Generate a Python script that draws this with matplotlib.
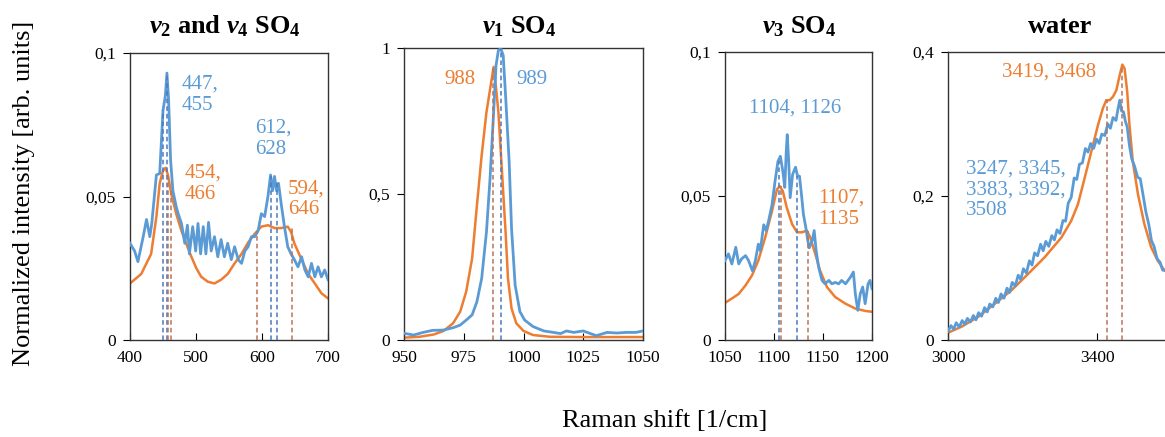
import matplotlib.pyplot as plt

plt.rcParams['font.family'] = 'Liberation Serif'
plt.rcParams['mathtext.fontset'] = 'custom'
plt.rcParams['mathtext.rm'] = 'Liberation Serif:bold'
plt.rcParams['mathtext.it'] = 'Liberation Serif:italic:bold'
plt.rcParams['mathtext.bf'] = 'Liberation Serif:bold'

BLUE = '#5B9BD5'
ORANGE = '#ED7D31'
BLUE_DASH = '#4A78C0'
ORANGE_DASH = '#B8735A'

# --- nu2 / nu4 SO4 ---
p1_x_blue = [400, 407, 412, 420, 425, 430, 433, 440, 445, 450,
             453.5, 456, 458.5, 461.5, 465, 470, 473, 478, 483, 487,
             490, 495, 499.5, 503, 507, 511, 515, 519, 523, 528,
             533, 538, 543, 548, 553.5, 558.5, 564, 569, 574, 579,
             584, 589, 594, 599, 604, 609, 613, 616, 619, 622,
             625, 629, 634, 639, 644, 649, 654.5, 660, 665, 670,
             675, 680, 685, 690, 695, 700]
p1_y_blue = [0.0337, 0.031, 0.0273, 0.036, 0.042, 0.036, 0.0406, 0.0575, 0.058, 0.080,
             0.085, 0.093, 0.0836, 0.0627, 0.052, 0.0465, 0.044, 0.0406, 0.0337, 0.040,
             0.030, 0.0395, 0.031, 0.0406, 0.030, 0.0395, 0.030, 0.041, 0.031, 0.036,
             0.029, 0.035, 0.029, 0.0337, 0.028, 0.0325, 0.028, 0.0267, 0.031, 0.0325,
             0.036, 0.036, 0.038, 0.044, 0.043, 0.050, 0.0575, 0.052, 0.057, 0.052,
             0.0546, 0.0476, 0.0395, 0.0325, 0.030, 0.028, 0.0255, 0.029, 0.0244, 0.022,
             0.0267, 0.022, 0.0255, 0.022, 0.0244, 0.021]
p1_x_orange = [400, 417, 432, 440, 445, 450, 454, 457.5, 462.5, 470,
               478, 485, 493, 500.5, 508, 518, 528, 538, 548, 558.5,
               569, 579, 589, 599, 609, 619, 629, 639, 644, 649,
               660, 670, 680, 690, 700]
p1_y_orange = [0.0197, 0.023, 0.030, 0.043, 0.0546, 0.059, 0.060, 0.0575, 0.051, 0.044,
               0.038, 0.0337, 0.029, 0.025, 0.022, 0.0203, 0.0197, 0.021, 0.023, 0.0267,
               0.030, 0.034, 0.037, 0.0395, 0.040, 0.039, 0.039, 0.0395, 0.0377, 0.0337,
               0.028, 0.023, 0.0197, 0.0163, 0.0145]
p1_peaks_blue = [449.5, 455.5, 613, 622]
p1_tops_blue = [0.080, 0.093, 0.057, 0.055]
p1_peaks_orange = [458, 461.5, 592, 645]
p1_tops_orange = [0.057, 0.052, 0.038, 0.039]

# --- nu1 SO4 ---
p2_x_blue = [950, 954, 958, 962, 966.5, 970.5, 973.5, 976, 978.5, 980.5,
             982.5, 984.5, 986, 987.5, 988.5, 989.5, 990.5, 991.5, 992.5, 994,
             995, 996.5, 998.5, 1000.5, 1004, 1008.5, 1012.5, 1015.5, 1018, 1021,
             1025, 1028, 1030.5, 1035, 1039, 1043, 1047, 1050]
p2_y_blue = [0.023, 0.017, 0.026, 0.033, 0.034, 0.042, 0.051, 0.068, 0.086, 0.131,
             0.211, 0.37, 0.553, 0.78, 0.94, 0.992, 0.998, 0.975, 0.838, 0.61,
             0.382, 0.188, 0.097, 0.068, 0.046, 0.031, 0.026, 0.022, 0.031, 0.026,
             0.031, 0.022, 0.015, 0.026, 0.024, 0.026, 0.026, 0.031]
p2_x_orange = [950, 956.5, 962.5, 966.5, 970.5, 973.5, 976, 978.5, 980.5, 982.5,
               984.5, 986.5, 987.5, 988, 989.5, 991, 992.5, 993.5, 995, 997,
               1000, 1004, 1011, 1025, 1050]
p2_y_orange = [0.008, 0.011, 0.019, 0.031, 0.057, 0.097, 0.165, 0.279, 0.46, 0.633,
               0.78, 0.884, 0.935, 0.906, 0.78, 0.576, 0.37, 0.211, 0.108, 0.057,
               0.031, 0.017, 0.011, 0.010, 0.010]
p2_peaks_blue = [990.5]
p2_tops_blue = [1.0]
p2_peaks_orange = [987.2]
p2_tops_orange = [0.935]

# --- nu3 SO4 ---
p3_x_blue = [1050, 1053.5, 1057, 1061, 1064, 1067, 1071, 1074, 1078, 1081,
             1084, 1086, 1089.5, 1092, 1094.5, 1098, 1101, 1104, 1106.5, 1109,
             1111, 1112.5, 1113.5, 1115, 1116.5, 1119, 1122, 1124, 1126, 1128,
             1130, 1132.5, 1134.5, 1136, 1139, 1141, 1143, 1145.5, 1149, 1152,
             1156, 1159, 1162.5, 1166, 1169, 1173, 1178, 1181, 1183, 1185.5,
             1188, 1190.5, 1193, 1196, 1198, 1200]
p3_y_blue = [0.0276, 0.0299, 0.0264, 0.0322, 0.0264, 0.0282, 0.0293, 0.0276, 0.024, 0.0276,
             0.0333, 0.031, 0.040, 0.038, 0.0414, 0.047, 0.055, 0.062, 0.0638, 0.0586,
             0.053, 0.0655, 0.0713, 0.062, 0.0494, 0.0575, 0.060, 0.0569, 0.0569, 0.0506,
             0.0437, 0.039, 0.0345, 0.032, 0.0345, 0.038, 0.031, 0.0253, 0.0207, 0.0195,
             0.0207, 0.0195, 0.020, 0.0195, 0.0207, 0.0195, 0.0218, 0.0236, 0.016, 0.0103,
             0.016, 0.0184, 0.0126, 0.0195, 0.0207, 0.0178]
p3_x_orange = [1050, 1057, 1064, 1071, 1077.5, 1084, 1091, 1098, 1103, 1106,
               1109, 1113, 1118.5, 1123.5, 1128.5, 1133.5, 1137, 1142, 1147, 1154,
               1162.5, 1173, 1183, 1193, 1200]
p3_y_orange = [0.0129, 0.0144, 0.016, 0.019, 0.0224, 0.0276, 0.0356, 0.0448, 0.0523, 0.0534,
               0.0517, 0.046, 0.0402, 0.0374, 0.0374, 0.038, 0.0356, 0.030, 0.0241, 0.0184,
               0.0149, 0.0126, 0.0109, 0.0101, 0.0098]
p3_peaks_blue = [1104.8, 1123.8]
p3_tops_blue = [0.062, 0.057]
p3_peaks_orange = [1106.8, 1134.4]
p3_tops_orange = [0.0534, 0.038]

# --- water ---
p4_x_blue = [3000, 3008, 3015, 3022, 3030, 3038, 3045, 3052, 3060, 3068,
             3075, 3082, 3090, 3098, 3105, 3112, 3120, 3128, 3135, 3142,
             3150, 3158, 3165, 3172, 3180, 3188, 3195, 3202, 3210, 3218,
             3225, 3232, 3240, 3248, 3255, 3262, 3270, 3278, 3285, 3292,
             3300, 3308, 3315, 3322, 3330, 3338, 3345, 3352, 3360, 3368,
             3375, 3382, 3390, 3398, 3405, 3412, 3420, 3428, 3435, 3442,
             3450, 3455, 3460, 3465, 3470, 3475, 3480, 3486, 3492, 3500,
             3508, 3515, 3522, 3530, 3538, 3545, 3552, 3560, 3568, 3575,
             3582]
p4_y_blue = [0.012, 0.020, 0.015, 0.024, 0.018, 0.027, 0.022, 0.030, 0.025, 0.034,
             0.028, 0.038, 0.033, 0.045, 0.039, 0.050, 0.046, 0.058, 0.052, 0.064,
             0.058, 0.072, 0.066, 0.080, 0.075, 0.090, 0.084, 0.099, 0.093, 0.110,
             0.104, 0.121, 0.117, 0.133, 0.124, 0.137, 0.130, 0.145, 0.139, 0.153,
             0.148, 0.166, 0.165, 0.190, 0.198, 0.225, 0.223, 0.244, 0.246, 0.266,
             0.261, 0.273, 0.266, 0.279, 0.273, 0.286, 0.284, 0.300, 0.294, 0.309,
             0.305, 0.320, 0.333, 0.318, 0.317, 0.304, 0.296, 0.270, 0.252, 0.241,
             0.226, 0.224, 0.203, 0.178, 0.160, 0.138, 0.130, 0.113, 0.108, 0.097,
             0.097]
p4_x_orange = [3000, 3036, 3081, 3126, 3170, 3215, 3259, 3304, 3330, 3348,
               3366, 3384, 3402, 3415, 3424, 3433, 3442, 3451, 3460, 3467,
               3473, 3480, 3486, 3495, 3509, 3526, 3544, 3562, 3580]
p4_y_orange = [0.0101, 0.0184, 0.0322, 0.0506, 0.069, 0.092, 0.115, 0.1425, 0.1655, 0.1885,
               0.225, 0.262, 0.299, 0.322, 0.333, 0.333, 0.338, 0.347, 0.368, 0.3825,
               0.377, 0.345, 0.299, 0.248, 0.202, 0.161, 0.129, 0.110, 0.0966]
p4_peaks_orange = [3425.5, 3467]
p4_tops_orange = [0.333, 0.382]

titles = [r'$\nu_\mathbf{2}$ and $\nu_\mathbf{4}$ SO$_\mathbf{4}$',
          r'$\nu_\mathbf{1}$ SO$_\mathbf{4}$',
          r'$\nu_\mathbf{3}$ SO$_\mathbf{4}$',
          'water']
xlims = [(400, 700), (950, 1050), (1050, 1200), (3000, 3600)]
xticks = [[400, 500, 600, 700], [950, 975, 1000, 1025, 1050],
          [1050, 1100, 1150, 1200], [3000, 3400]]
ytops = [0.1, 1, 0.1, 0.4]
yticks = [[0, 0.05, 0.1], [0, 0.5, 1], [0, 0.05, 0.1], [0, 0.2, 0.4]]
yticklabels = [['0', '0,05', '0,1'], ['0', '0,5', '1'],
               ['0', '0,05', '0,1'], ['0', '0,2', '0,4']]

W, H = 1165, 437
# pixel boxes: left, top, right, bottom
boxes = [(130, 53, 328, 340), (404, 48, 643, 340),
         (725, 52, 872, 340), (948, 52, 1172, 340)]
title_x = [225, 519, 799, 1060]
title_base = 33

fig = plt.figure(figsize=(W / 100, H / 100), dpi=100)
axes = []
for i, (l, t, r, b) in enumerate(boxes):
    ax = fig.add_axes([l / W, 1 - b / H, (r - l) / W, (b - t) / H])
    ax.set_xlim(*xlims[i])
    ax.set_ylim(0, ytops[i])
    ax.set_xticks(xticks[i])
    ax.set_yticks(yticks[i])
    ax.set_yticklabels(yticklabels[i])
    ax.tick_params(axis='x', direction='in', length=5, pad=7, labelsize=12.5)
    ax.tick_params(axis='y', direction='out', length=5, pad=5, labelsize=12.5)
    for s in ax.spines.values():
        s.set_linewidth(1.0)
        s.set_color('#333333')
    fig.text(title_x[i] / W, 1 - title_base / H, titles[i], fontsize=19,
             fontweight='bold', ha='center', va='baseline')
    axes.append(ax)

dash = (0, (3, 2))
series = [
    (p1_x_orange, p1_y_orange, p1_x_blue, p1_y_blue),
    (p2_x_orange, p2_y_orange, p2_x_blue, p2_y_blue),
    (p3_x_orange, p3_y_orange, p3_x_blue, p3_y_blue),
    (p4_x_orange, p4_y_orange, p4_x_blue, p4_y_blue),
]
for ax, (xo, yo, xb, yb) in zip(axes, series):
    ax.plot(xo, yo, color=ORANGE, lw=1.8, zorder=2)
    ax.plot(xb, yb, color=BLUE, lw=2.0, zorder=3)

peaks = [
    (p1_peaks_blue, p1_tops_blue, p1_peaks_orange, p1_tops_orange),
    (p2_peaks_blue, p2_tops_blue, p2_peaks_orange, p2_tops_orange),
    (p3_peaks_blue, p3_tops_blue, p3_peaks_orange, p3_tops_orange),
    ([], [], p4_peaks_orange, p4_tops_orange),
]
for ax, (pb, tb, po, to) in zip(axes, peaks):
    if pb:
        ax.vlines(pb, 0, tb, colors=BLUE_DASH, linestyles=dash, lw=1.1, zorder=4)
    ax.vlines(po, 0, to, colors=ORANGE_DASH, linestyles=dash, lw=1.1, zorder=4)

fs = 15
a1, a2, a3, a4 = axes
a1.text(478.5, 0.0925, '447,\n455', color=BLUE, fontsize=fs, va='top', ha='left', linespacing=1.15)
a1.text(589, 0.077, '612,\n628', color=BLUE, fontsize=fs, va='top', ha='left', linespacing=1.15)
a1.text(483, 0.0615, '454,\n466', color=ORANGE, fontsize=fs, va='top', ha='left', linespacing=1.15)
a1.text(639.5, 0.056, '594,\n646', color=ORANGE, fontsize=fs, va='top', ha='left', linespacing=1.15)
a2.text(973.4, 0.892, '988', color=ORANGE, fontsize=fs, va='center', ha='center')
a2.text(1003.6, 0.892, '989', color=BLUE, fontsize=fs, va='center', ha='center')
a3.text(1121.4, 0.0807, '1104, 1126', color=BLUE, fontsize=fs, va='center', ha='center')
a3.text(1145, 0.0525, '1107,\n1135', color=ORANGE, fontsize=fs, va='top', ha='left', linespacing=1.15)
a4.text(3271, 0.3715, '3419, 3468', color=ORANGE, fontsize=fs, va='center', ha='center')
a4.text(3048, 0.251, '3247, 3345,\n3383, 3392,\n3508', color=BLUE, fontsize=fs,
        va='top', ha='left', linespacing=1.15)

fig.text(24 / W, 1 - 193 / H, 'Normalized intensity [arb. units]', rotation=90,
         fontsize=19, ha='center', va='center')
fig.text(665 / W, 1 - 421 / H, 'Raman shift [1/cm]', fontsize=19, ha='center', va='center')

fig.savefig('out.png', dpi=100)
